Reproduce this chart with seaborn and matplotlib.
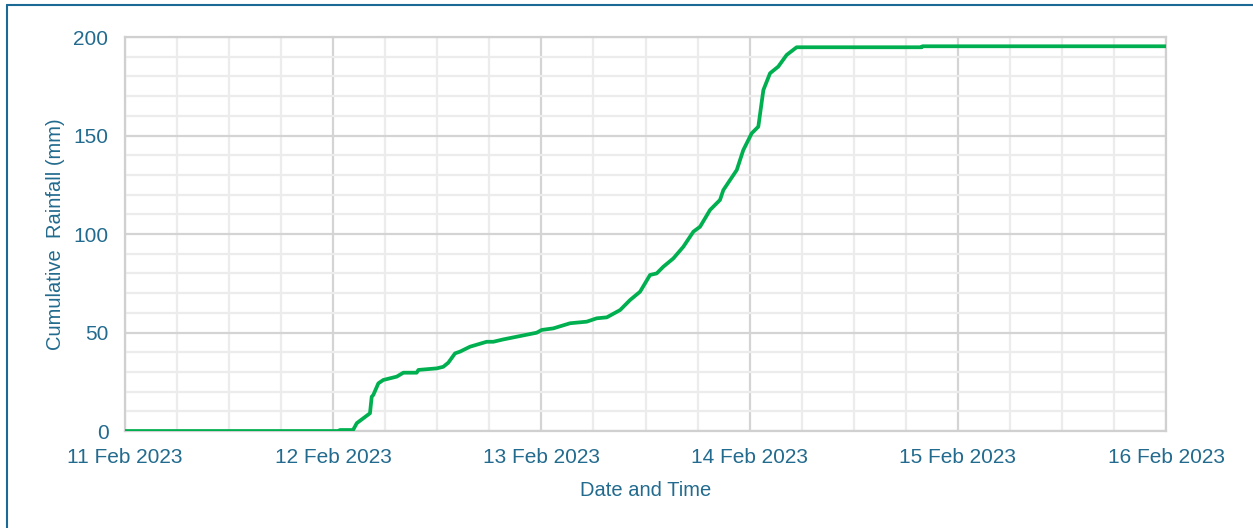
import matplotlib
matplotlib.use('Agg')
import matplotlib.pyplot as plt
import matplotlib.dates as mdates
from matplotlib.lines import Line2D
from matplotlib.ticker import MultipleLocator
import pandas as pd
import seaborn as sns

# cumulative rainfall readings
times = [
    '2023-02-11 00:00', '2023-02-12 00:33', '2023-02-12 00:47', '2023-02-12 02:17',
    '2023-02-12 02:43', '2023-02-12 04:14', '2023-02-12 04:26', '2023-02-12 04:37',
    '2023-02-12 05:12', '2023-02-12 05:46', '2023-02-12 07:19', '2023-02-12 08:05',
    '2023-02-12 09:37', '2023-02-12 09:49', '2023-02-12 11:56', '2023-02-12 12:41',
    '2023-02-12 13:16', '2023-02-12 14:02', '2023-02-12 14:37', '2023-02-12 15:46',
    '2023-02-12 17:41', '2023-02-12 18:27', '2023-02-12 19:36', '2023-02-12 21:32',
    '2023-02-12 23:27', '2023-02-13 00:02', '2023-02-13 01:22', '2023-02-13 03:18',
    '2023-02-13 05:13', '2023-02-13 06:22', '2023-02-13 07:32', '2023-02-13 09:04',
    '2023-02-13 10:13', '2023-02-13 11:22', '2023-02-13 12:31', '2023-02-13 13:17',
    '2023-02-13 14:03', '2023-02-13 15:12', '2023-02-13 16:21', '2023-02-13 17:31',
    '2023-02-13 18:17', '2023-02-13 19:26', '2023-02-13 20:35', '2023-02-13 20:58',
    '2023-02-13 22:31', '2023-02-13 23:16', '2023-02-14 00:14', '2023-02-14 01:00',
    '2023-02-14 01:35', '2023-02-14 02:21', '2023-02-14 03:18', '2023-02-14 04:16',
    '2023-02-14 05:25', '2023-02-14 19:50', '2023-02-14 19:55', '2023-02-16 00:00',
]
rainfall = [
    0, 0, 0.5, 0.5,
    4, 9, 17.4, 18.3,
    24.2, 25.9, 27.6, 29.6,
    29.6, 31, 31.8, 32.6,
    34.7, 39.4, 40.3, 42.8,
    45.3, 45.3, 46.5, 48.2,
    49.9, 51.3, 52.1, 54.7,
    55.5, 57.2, 57.7, 61.4,
    66.5, 70.7, 79.2, 80,
    83.4, 87.6, 93.5, 101.2,
    103.7, 112.2, 117.3, 122.3,
    132.5, 142.6, 151.1, 154.5,
    173.1, 181.6, 185, 190.9,
    194.8, 194.8, 195.3, 195.3,
]

df = pd.DataFrame({'time': pd.to_datetime(times), 'rain': rainfall})

sns.set_style('white')
plt.rcParams['font.family'] = ['Liberation Sans', 'DejaVu Sans']
txt = '#226b8e'

fig = plt.figure(figsize=(12.53, 5.28), dpi=100)
ax = fig.add_axes([0.0998, 0.1837, 0.8308, 0.7462])

sns.lineplot(data=df, x='time', y='rain', color='#00b050', linewidth=2.7,
             ax=ax, zorder=5)

ax.set_xlim(pd.Timestamp('2023-02-11'), pd.Timestamp('2023-02-16'))
ax.set_ylim(0, 200)
ax.xaxis.set_major_locator(mdates.DayLocator())
ax.xaxis.set_major_formatter(mdates.DateFormatter('%d %b %Y'))
ax.xaxis.set_minor_locator(mdates.HourLocator(byhour=[6, 12, 18]))
ax.yaxis.set_major_locator(MultipleLocator(50))
ax.yaxis.set_minor_locator(MultipleLocator(10))

ax.grid(which='major', color='#d4d4d4', linewidth=1.6)
ax.grid(which='minor', color='#ececec', linewidth=1.6)
ax.set_axisbelow(True)
for s in ax.spines.values():
    s.set_color('#d0d0d0')
    s.set_linewidth(1.6)

ax.tick_params(which='both', length=0, labelsize=15, labelcolor=txt)
ax.tick_params(axis='x', pad=12)
ax.tick_params(axis='y', pad=12)
ax.set_xlabel('Date and Time', fontsize=14.5, color=txt, labelpad=10.5)
ax.set_ylabel('Cumulative  Rainfall (mm)', fontsize=14.5, color=txt, labelpad=6)

# blue frame round the chart (left and top edges visible)
fig.add_artist(Line2D([0.0052, 0.0052], [0, 0.99], transform=fig.transFigure,
                      color='#1b6a96', linewidth=1.5))
fig.add_artist(Line2D([0.0052, 1], [0.99, 0.99], transform=fig.transFigure,
                      color='#1b6a96', linewidth=1.5))

fig.savefig('out.png', dpi=100)
